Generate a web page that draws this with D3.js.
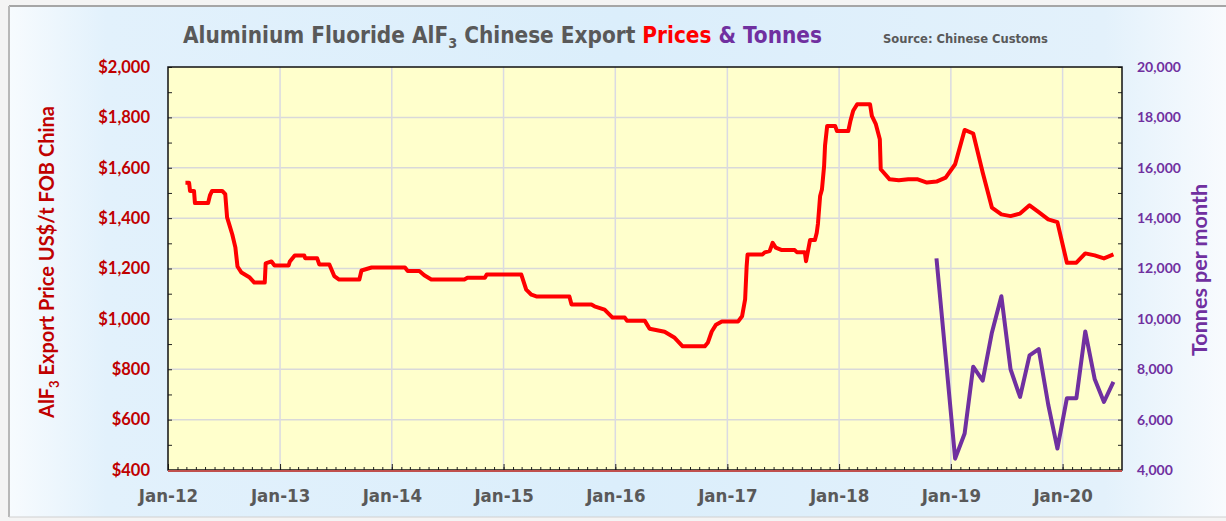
<!DOCTYPE html>
<html>
<head>
<meta charset="utf-8">
<script src="https://cdn.jsdelivr.net/npm/d3@7"></script>
<style>
  body { margin: 0; background: #fff; }
  svg { display: block; }
</style>
</head>
<body>
<svg id="chart"></svg>
<script>
// weekly-ish export price steps (US$/t FOB China)
const priceDates = [
  '2012-02-27','2012-03-10','2012-03-13','2012-03-26','2012-03-29','2012-05-11','2012-05-17','2012-05-24',
  '2012-06-26','2012-07-06','2012-07-12','2012-07-19','2012-07-29','2012-08-08','2012-08-15','2012-08-28',
  '2012-09-24','2012-10-09','2012-11-12','2012-11-15','2012-12-04','2012-12-14','2013-01-29','2013-02-02',
  '2013-02-18','2013-03-21','2013-03-24','2013-05-02','2013-05-09','2013-06-11','2013-06-27','2013-07-13',
  '2013-09-17','2013-09-24','2013-10-27','2014-02-13','2014-02-22','2014-04-01','2014-04-17','2014-05-10',
  '2014-08-26','2014-09-05','2014-11-01','2014-11-07','2015-02-28','2015-03-16','2015-04-02','2015-04-18',
  '2015-08-04','2015-08-11','2015-10-15','2015-10-25','2015-11-27','2015-12-23','2016-02-01','2016-02-08',
  '2016-04-06','2016-04-22','2016-06-10','2016-07-13','2016-08-08','2016-10-19','2016-10-29','2016-11-11',
  '2016-11-25','2016-12-14','2017-02-05','2017-02-18','2017-02-28','2017-03-05','2017-03-08','2017-04-26',
  '2017-05-03','2017-05-19','2017-05-29','2017-06-08','2017-06-28','2017-08-09','2017-08-16','2017-09-11',
  '2017-09-15','2017-09-28','2017-10-14','2017-10-20','2017-10-24','2017-10-31','2017-11-06','2017-11-13',
  '2017-11-16','2017-11-23','2017-12-19','2017-12-25','2018-01-31','2018-02-07','2018-02-16','2018-03-01',
  '2018-04-12','2018-04-18','2018-05-01','2018-05-14','2018-05-17','2018-06-15'
];
const priceValues = [
  1540,1540,1508,1508,1460,1460,1490,1508,
  1508,1495,1403,1375,1335,1284,1208,1184,
  1164,1144,1144,1220,1228,1212,1212,1228,
  1252,1252,1241,1241,1216,1216,1170,1156,
  1156,1192,1204,1204,1190,1190,1173,1156,
  1156,1163,1163,1176,1176,1116,1096,1089,
  1089,1057,1057,1050,1037,1005,1005,993,
  993,961,949,925,891,891,905,950,
  977,990,990,1010,1077,1209,1256,1256,
  1264,1269,1302,1283,1273,1273,1265,1265,
  1229,1313,1313,1342,1379,1488,1514,1607,
  1687,1766,1766,1746,1746,1786,1826,1852,
  1852,1806,1773,1713,1594,1554
];

// monthly figures from mid 2018
const monthDates = [
  '2018-07-15','2018-08-15','2018-09-15','2018-10-15','2018-11-15','2018-12-15',
  '2019-01-15','2019-02-15','2019-03-15','2019-04-15','2019-05-15','2019-06-15',
  '2019-07-15','2019-08-15','2019-09-15','2019-10-15','2019-11-15','2019-12-15',
  '2020-01-15','2020-02-15','2020-03-15','2020-04-15','2020-05-15','2020-06-15'
];
const monthPrices = [
  1550,1554,1554,1541,1545,1561,
  1614,1750,1736,1581,1442,1415,
  1408,1418,1451,1424,1395,1384,
  1223,1223,1260,1252,1240,1256
];
const tonnesDates = monthDates.slice(4);
const tonnesValues = [
  12400,8500,
  4450,5450,8100,7550,9450,10900,
  8000,6900,8550,8800,6600,4850,
  6850,6850,9500,7600,6700,7500
];

const priceTicks = [400, 600, 800, 1000, 1200, 1400, 1600, 1800, 2000];
const tonnesTicks = [4000, 6000, 8000, 10000, 12000, 14000, 16000, 18000, 20000];
const yearTicks = ['2012-01-01','2013-01-01','2014-01-01','2015-01-01','2016-01-01',
                   '2017-01-01','2018-01-01','2019-01-01','2020-01-01'];

var config = {
  width: 1226,
  height: 521,
  left: 168,
  right: 1122,
  top: 67,
  bottom: 470,
  red: '#ff0000',
  darkRed: '#c00000',
  purple: '#7030a0',
  grey: '#595959'
};

const parse = d3.utcParse('%Y-%m-%d');
const fontMain = "Lato, 'Open Sans', sans-serif";
const fontNarrow = "'Liberation Sans Narrow', 'Arial Narrow', 'DejaVu Sans Condensed', Lato, sans-serif";

const svg = d3.select('#chart')
  .attr('width', config.width)
  .attr('height', config.height);

// shrink a text's font until it spans the wanted width
function fitWidth(sel, width) {
  const node = sel.node();
  const size = parseFloat(sel.attr('font-size'));
  const w = node.getComputedTextLength();
  if (w > 0) sel.attr('font-size', (size * width / w).toFixed(2));
}

// background panel
const defs = svg.append('defs');
const bg = defs.append('linearGradient').attr('id', 'bgGrad')
  .attr('x1', 0).attr('x2', 1).attr('y1', 0).attr('y2', 0);
bg.append('stop').attr('offset', '0%').attr('stop-color', '#f7fbfe');
bg.append('stop').attr('offset', '8%').attr('stop-color', '#e2f1fc');
bg.append('stop').attr('offset', '50%').attr('stop-color', '#dbeefb');
bg.append('stop').attr('offset', '90%').attr('stop-color', '#e3f1fb');
bg.append('stop').attr('offset', '100%').attr('stop-color', '#f8fbfe');

svg.append('rect').attr('width', config.width).attr('height', config.height).attr('fill', '#f4f4f4');
svg.append('rect')
  .attr('x', 9).attr('y', 6)
  .attr('width', config.width - 9).attr('height', 511)
  .attr('fill', 'url(#bgGrad)');
svg.append('line').attr('x1', 9).attr('x2', config.width).attr('y1', 6).attr('y2', 6)
  .attr('stroke', '#a6a6a6').attr('stroke-width', 2);
svg.append('line').attr('x1', 9).attr('x2', 9).attr('y1', 6).attr('y2', 517)
  .attr('stroke', '#b8b8b8').attr('stroke-width', 2);
svg.append('line').attr('x1', 9).attr('x2', config.width).attr('y1', 517).attr('y2', 517)
  .attr('stroke', '#d0d0d0').attr('stroke-width', 1);

// scales
const x = d3.scaleUtc()
  .domain([parse('2012-01-01'), parse('2020-07-13')])
  .range([config.left, config.right]);
const yL = d3.scaleLinear().domain([400, 2000]).range([config.bottom, config.top]);
const yR = d3.scaleLinear().domain([4000, 20000]).range([config.bottom, config.top]);

// plot area
svg.append('rect')
  .attr('x', config.left).attr('y', config.top)
  .attr('width', config.right - config.left).attr('height', config.bottom - config.top)
  .attr('fill', '#ffffcc');

// gridlines
svg.append('g').selectAll('line')
  .data(priceTicks.slice(1, -1))
  .enter().append('line')
  .attr('x1', config.left).attr('x2', config.right)
  .attr('y1', d => yL(d)).attr('y2', d => yL(d))
  .attr('stroke', '#d9d9d9').attr('stroke-width', 1.5);
svg.append('g').selectAll('line')
  .data(yearTicks.slice(1))
  .enter().append('line')
  .attr('x1', d => x(parse(d))).attr('x2', d => x(parse(d)))
  .attr('y1', config.top).attr('y2', config.bottom)
  .attr('stroke', '#dadae2').attr('stroke-width', 1.5);

// axes
const leftAxis = svg.append('g')
  .attr('transform', `translate(${config.left},0)`)
  .call(d3.axisLeft(yL)
    .tickValues(d3.range(400, 2001, 100))
    .tickSize(-4).tickSizeOuter(0).tickPadding(18)
    .tickFormat(d => priceTicks.includes(d) ? '$' + d3.format(',')(d) : ''));
leftAxis.selectAll('text')
  .attr('fill', config.darkRed).attr('font-family', fontMain)
  .attr('font-weight', 'bold').attr('font-size', 16.5);

const rightAxis = svg.append('g')
  .attr('transform', `translate(${config.right},0)`)
  .call(d3.axisRight(yR)
    .tickValues(d3.range(4000, 20001, 1000))
    .tickSize(-4).tickSizeOuter(0).tickPadding(15)
    .tickFormat(d => tonnesTicks.includes(d) ? d3.format(',')(d) : ''));
rightAxis.selectAll('text')
  .attr('fill', config.purple).attr('font-family', fontMain)
  .attr('font-weight', 'bold').attr('font-size', 14);

const monthAxis = svg.append('g')
  .attr('transform', `translate(0,${config.bottom})`)
  .call(d3.axisBottom(x).ticks(d3.utcMonth.every(1)).tickSize(-3).tickSizeOuter(0).tickFormat(''));
const yearAxis = svg.append('g')
  .attr('transform', `translate(0,${config.bottom})`)
  .call(d3.axisBottom(x)
    .tickValues(yearTicks.map(parse))
    .tickSize(-6).tickSizeOuter(0).tickPadding(19)
    .tickFormat(d3.utcFormat('%b-%y')));
yearAxis.selectAll('text')
  .attr('fill', config.grey).attr('font-family', fontNarrow)
  .attr('font-weight', 'bold').attr('font-size', 18.5);

[leftAxis, rightAxis, monthAxis, yearAxis].forEach(a => {
  a.select('.domain').remove();
  a.selectAll('line').attr('stroke', '#222').attr('stroke-width', 1);
});

// frame
svg.append('rect')
  .attr('x', config.left).attr('y', config.top)
  .attr('width', config.right - config.left).attr('height', config.bottom - config.top)
  .attr('fill', 'none').attr('stroke', '#111').attr('stroke-width', 1.5);
svg.append('line')
  .attr('x1', config.left).attr('x2', config.right)
  .attr('y1', config.bottom + 1).attr('y2', config.bottom + 1)
  .attr('stroke', '#c0504d').attr('stroke-width', 2);

// series
const pricePoints = priceDates.map((d, i) => [parse(d), priceValues[i]])
  .concat(monthDates.map((d, i) => [parse(d), monthPrices[i]]));
const tonnesPoints = tonnesDates.map((d, i) => [parse(d), tonnesValues[i]]);

svg.append('path')
  .datum(pricePoints)
  .attr('fill', 'none')
  .attr('stroke', config.red)
  .attr('stroke-width', 4)
  .attr('stroke-linejoin', 'round')
  .attr('d', d3.line().x(d => x(d[0])).y(d => yL(d[1])));

svg.append('path')
  .datum(tonnesPoints)
  .attr('fill', 'none')
  .attr('stroke', config.purple)
  .attr('stroke-width', 4)
  .attr('stroke-linejoin', 'round')
  .attr('d', d3.line().x(d => x(d[0])).y(d => yR(d[1])));

// title
const title = svg.append('text')
  .attr('x', 183).attr('y', 43)
  .attr('font-family', fontNarrow).attr('font-weight', 'bold').attr('font-size', 25);
title.append('tspan').attr('fill', config.grey).text('Aluminium Fluoride AlF');
title.append('tspan').attr('fill', config.grey).attr('font-size', '0.64em').attr('dy', 5).text('3');
title.append('tspan').attr('fill', config.grey).attr('dy', -5).text(' Chinese Export ');
title.append('tspan').attr('fill', config.red).text('Prices');
title.append('tspan').attr('fill', config.purple).text(' & Tonnes');
fitWidth(title, 639);

const source = svg.append('text')
  .attr('x', 883).attr('y', 43)
  .attr('font-family', fontNarrow).attr('font-weight', 'bold').attr('font-size', 13.5)
  .attr('fill', config.grey)
  .text('Source: Chinese Customs');
fitWidth(source, 165);

// axis titles
const leftTitle = svg.append('text')
  .attr('transform', 'translate(54,262) rotate(-90)')
  .attr('text-anchor', 'middle')
  .attr('font-family', fontMain).attr('font-weight', 'bold').attr('font-size', 20)
  .attr('fill', config.darkRed);
leftTitle.append('tspan').text('AlF');
leftTitle.append('tspan').attr('font-size', 13).attr('dy', 5).text('3');
leftTitle.append('tspan').attr('dy', -5).text(' Export Price US$/t FOB China');

svg.append('text')
  .attr('transform', 'translate(1207,270) rotate(-90)')
  .attr('text-anchor', 'middle')
  .attr('font-family', fontMain).attr('font-weight', 'bold').attr('font-size', 21.5)
  .attr('fill', config.purple)
  .text('Tonnes per month');
</script>
</body>
</html>
